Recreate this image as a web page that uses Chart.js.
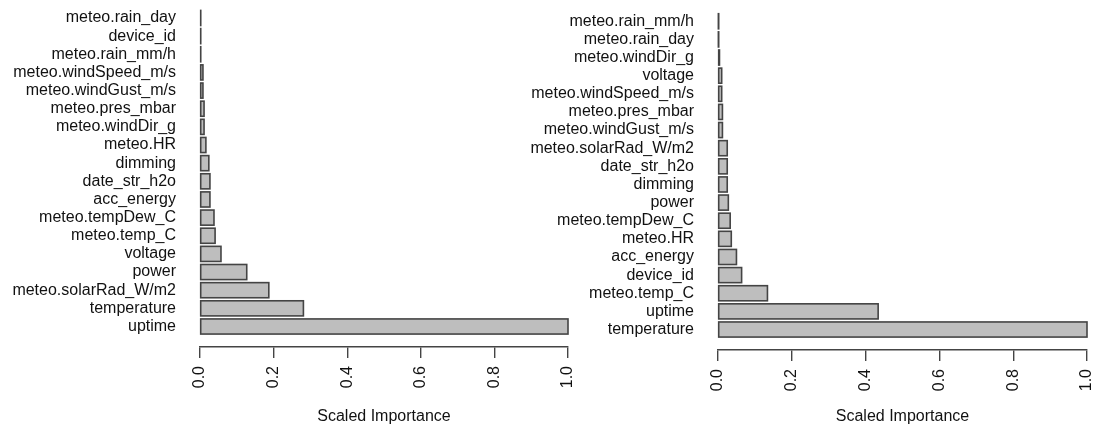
<!DOCTYPE html>
<html>
<head>
<meta charset="utf-8">
<title>Scaled Importance</title>
<script src="https://cdn.jsdelivr.net/npm/chart.js@4/dist/chart.umd.min.js"></script>
<style>
    html, body { margin: 0; padding: 0; background: #fff; }
    #wrap { position: relative; width: 1095px; height: 428px; overflow: hidden; }
    .panel { position: absolute; top: 0; }
    #leftPanel { left: 0; }
    #rightPanel { left: 520px; }
</style>
</head>
<body>
<div id="wrap">
    <div class="panel" id="leftPanel"><canvas id="leftChart" width="590" height="428"></canvas></div>
    <div class="panel" id="rightPanel"><canvas id="rightChart" width="575" height="428"></canvas></div>
</div>
<script>
// Variable importance, listed top to bottom as drawn
const leftNames = [
    'meteo.rain_day', 'device_id', 'meteo.rain_mm/h', 'meteo.windSpeed_m/s',
    'meteo.windGust_m/s', 'meteo.pres_mbar', 'meteo.windDir_g', 'meteo.HR',
    'dimming', 'date_str_h2o', 'acc_energy', 'meteo.tempDew_C', 'meteo.temp_C',
    'voltage', 'power', 'meteo.solarRad_W/m2', 'temperature', 'uptime'
];
const leftValues = [
    0.002, 0.002, 0.002, 0.008,
    0.008, 0.011, 0.011, 0.016,
    0.024, 0.027, 0.027, 0.038, 0.041,
    0.057, 0.127, 0.187, 0.281, 1.0
];

const rightNames = [
    'meteo.rain_mm/h', 'meteo.rain_day', 'meteo.windDir_g', 'voltage',
    'meteo.windSpeed_m/s', 'meteo.pres_mbar', 'meteo.windGust_m/s', 'meteo.solarRad_W/m2',
    'date_str_h2o', 'dimming', 'power', 'meteo.tempDew_C', 'meteo.HR',
    'acc_energy', 'device_id', 'meteo.temp_C', 'uptime', 'temperature'
];
const rightValues = [
    0.001, 0.001, 0.004, 0.010,
    0.010, 0.012, 0.012, 0.025,
    0.025, 0.025, 0.028, 0.033, 0.036,
    0.050, 0.064, 0.134, 0.434, 1.0
];

const xTicks = [0, 0.2, 0.4, 0.6, 0.8, 1.0];
const xTitle = 'Scaled Importance';

const FONT = { family: '"Liberation Sans", Arial, sans-serif', size: 16 };
const TEXT = '#111';
const EDGE = '#444';

// outline every bar like base graphics does (stroke also shows on near-zero bars)
const barOutline = {
    id: 'barOutline',
    afterDatasetsDraw(chart) {
        const ctx = chart.ctx;
        ctx.save();
        ctx.strokeStyle = EDGE;
        ctx.lineWidth = 1.6;
        chart.getDatasetMeta(0).data.forEach(bar => {
            const p = bar.getProps(['x', 'y', 'base', 'height'], true);
            ctx.strokeRect(Math.min(p.base, p.x), p.y - p.height / 2, Math.abs(p.x - p.base), p.height);
        });
        ctx.restore();
    }
};

function renderImportance(canvasId, names, values, layout) {
    const ctx = document.getElementById(canvasId).getContext('2d');
    const points = values.map((v, i) => ({ x: v, y: i }));

    return new Chart(ctx, {
        type: 'bar',
        data: {
            datasets: [{
                data: points,
                backgroundColor: '#bebebe',
                borderWidth: 0,
                categoryPercentage: 1,
                barPercentage: 0.833
            }]
        },
        options: {
            indexAxis: 'y',
            responsive: false,
            animation: false,
            devicePixelRatio: 1,
            layout: { padding: { top: layout.top, right: layout.right, left: 0, bottom: 0 } },
            plugins: {
                legend: { display: false },
                tooltip: { enabled: false }
            },
            scales: {
                y: {
                    type: 'linear',
                    reverse: true,
                    offset: false,
                    // leave a gap of about one bar between the last bar and the axis
                    min: -0.5,
                    max: names.length - 1 + 1.13,
                    afterBuildTicks: scale => {
                        scale.ticks = names.map((_, i) => ({ value: i }));
                    },
                    afterFit: scale => {
                        scale.width = layout.axisWidth;
                        scale.paddingTop = 0;
                        scale.paddingBottom = 0;
                    },
                    ticks: {
                        autoSkip: false,
                        padding: 24,
                        color: TEXT,
                        font: FONT,
                        callback: v => names[v]
                    },
                    grid: { display: false, drawTicks: false },
                    border: { display: false }
                },
                x: {
                    type: 'linear',
                    min: 0,
                    max: 1,
                    afterBuildTicks: scale => {
                        scale.ticks = xTicks.map(v => ({ value: v }));
                    },
                    afterFit: scale => {
                        scale.height = layout.axisHeight;
                        scale.paddingLeft = 0;
                        scale.paddingRight = 0;
                    },
                    ticks: {
                        minRotation: 90,
                        maxRotation: 90,
                        padding: 8,
                        color: TEXT,
                        font: FONT,
                        callback: v => v.toFixed(1)
                    },
                    grid: {
                        drawOnChartArea: false,
                        drawTicks: true,
                        tickLength: 11,
                        color: EDGE,
                        lineWidth: 1.4
                    },
                    border: { display: true, color: EDGE, width: 1.4 },
                    title: {
                        display: true,
                        text: xTitle,
                        color: TEXT,
                        font: FONT,
                        padding: { top: 4, bottom: 2 }
                    }
                }
            }
        },
        plugins: [barOutline]
    });
}

document.addEventListener('DOMContentLoaded', function() {
    renderImportance('leftChart', leftNames, leftValues, { top: 8.9, right: 22, axisWidth: 200, axisHeight: 81 });
    renderImportance('rightChart', rightNames, rightValues, { top: 12.2, right: 8, axisWidth: 198, axisHeight: 78 });
});
</script>
</body>
</html>
